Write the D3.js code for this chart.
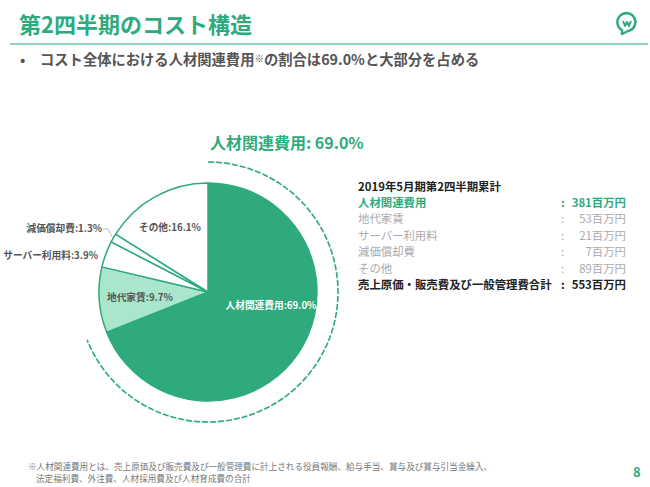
<!DOCTYPE html>
<html>
<head>
<meta charset="utf-8">
<script src="https://cdn.jsdelivr.net/npm/d3@7"></script>
<style>
  body { margin: 0; background: #fff; }
  text { font-family: "Noto Sans CJK JP", "Noto Sans", sans-serif; }
</style>
</head>
<body>
<div id="chart"></div>
<script>
// data
const categories = ["人材関連費用", "地代家賃", "サーバー利用料", "減価償却費", "その他"];
const shares = [69.0, 9.7, 3.9, 1.3, 16.1];
const amounts = [381, 53, 21, 7, 89];
const totalLabel = "売上原価・販売費及び一般管理費合計";
const totalAmount = 553;

const width = 650;
const height = 487;
const green = "#2eaa7d";

const svg = d3.select("#chart").append("svg")
  .attr("width", width)
  .attr("height", height);

// header
svg.append("text")
  .attr("x", 19).attr("y", 33)
  .attr("fill", green)
  .attr("font-size", 22).attr("font-weight", 700)
  .text("第2四半期のコスト構造");

svg.append("line")
  .attr("x1", 10).attr("x2", 648)
  .attr("y1", 44).attr("y2", 44)
  .attr("stroke", "#6cc3a0").attr("stroke-width", 1.5);

// logo
const logo = svg.append("g").attr("transform", "translate(627,22)");
logo.append("path")
  .attr("d", "M-5,8 A9,9 0 1 1 1,9 L-5,12 Z")
  .attr("fill", "none").attr("stroke", green).attr("stroke-width", 2.5)
  .attr("stroke-linejoin", "round");
logo.append("path")
  .attr("d", "M-4,-1 L-2,4 L0,0 L2,4 L4,-1")
  .attr("fill", "none").attr("stroke", green).attr("stroke-width", 2)
  .attr("stroke-linejoin", "round");

svg.append("text")
  .attr("x", 20).attr("y", 65)
  .attr("fill", "#555").attr("font-size", 14).attr("font-weight", 700)
  .text("•");
const sub = svg.append("text")
  .attr("x", 40).attr("y", 65)
  .attr("fill", "#555").attr("font-size", 14.3).attr("font-weight", 700);
sub.append("tspan").text("コスト全体における人材関連費用");
sub.append("tspan").attr("font-size", 9.5).attr("font-weight", 400).attr("dy", -3.5).text("※");
sub.append("tspan").attr("dy", 3.5).text("の割合は69.0%と大部分を占める");

// pie
const cx = 208, cy = 292, r = 109;
const pie = d3.pie().sort(null).value(d => d);
const arcs = pie(shares);
const arc = d3.arc().innerRadius(0).outerRadius(r);
const fills = [green, "#a9e6cc", "#fff", "#fff", "#fff"];

const g = svg.append("g").attr("transform", `translate(${cx},${cy})`);
g.selectAll("path.slice")
  .data(arcs)
  .enter()
  .append("path")
  .attr("class", "slice")
  .attr("d", arc)
  .attr("fill", (d, i) => fills[i])
  .attr("stroke", green)
  .attr("stroke-width", 1.5)
  .attr("stroke-linejoin", "round");

// dashed arc around main slice
g.append("path")
  .attr("d", d3.arc().innerRadius(130).outerRadius(130)
    .startAngle(arcs[0].startAngle).endAngle(arcs[0].endAngle)())
  .attr("fill", "none")
  .attr("stroke", green)
  .attr("stroke-width", 1.6)
  .attr("stroke-dasharray", "5,3");

// labels
const fs = 9.7;
const lbl = (i) => `${categories[i]}:${shares[i].toFixed(1)}%`;
g.append("text").attr("x", 63).attr("y", 17)
  .attr("text-anchor", "middle").attr("fill", "#fff")
  .attr("font-size", fs).attr("font-weight", 700).text(lbl(0));
g.append("text").attr("x", -101).attr("y", 9)
  .attr("fill", "#555").attr("font-size", fs).attr("font-weight", 700).text(lbl(1));
g.append("text").attr("x", -69).attr("y", -61)
  .attr("fill", "#555").attr("font-size", fs).attr("font-weight", 700).text(lbl(4));
g.append("text").attr("x", -110).attr("y", -33)
  .attr("text-anchor", "end")
  .attr("fill", "#555").attr("font-size", fs).attr("font-weight", 700).text(lbl(2));
g.append("text").attr("x", -106).attr("y", -60)
  .attr("text-anchor", "end")
  .attr("fill", "#555").attr("font-size", fs).attr("font-weight", 700).text(lbl(3));
// leader line for small slice
const mid3 = (arcs[3].startAngle + arcs[3].endAngle) / 2;
g.append("polyline")
  .attr("points", [[-105, -63], [-100, -63], [Math.sin(mid3) * (r + 1), -Math.cos(mid3) * (r + 1)]].map(p => p.join(",")).join(" "))
  .attr("fill", "none").attr("stroke", "#aaa").attr("stroke-width", 0.8);

svg.append("text")
  .attr("x", 210).attr("y", 149)
  .attr("fill", green).attr("font-size", 16).attr("font-weight", 700)
  .text(`${categories[0]}: ${shares[0].toFixed(1)}%`);

// table
const tx = 358, colonX = 561, valX = 626, rowY0 = 207, rowH = 16.4;
svg.append("text").attr("x", tx).attr("y", 191)
  .attr("fill", "#222").attr("font-size", 11.4).attr("font-weight", 700)
  .text("2019年5月期第2四半期累計");

const rows = categories.map((c, i) => ({ name: c, amount: amounts[i] }))
  .concat([{ name: totalLabel, amount: totalAmount }]);
const rowColor = (i) => i === 0 ? green : (i === rows.length - 1 ? "#222" : "#aaa");
const rowWeight = (i) => (i === 0 || i === rows.length - 1) ? 700 : 400;

const tr = svg.selectAll("g.row")
  .data(rows)
  .enter()
  .append("g")
  .attr("class", "row")
  .attr("transform", (d, i) => `translate(0,${rowY0 + i * rowH})`)
  .attr("fill", (d, i) => rowColor(i))
  .attr("font-weight", (d, i) => rowWeight(i))
  .attr("font-size", 11.4);
tr.append("text").attr("x", tx).text(d => d.name);
tr.append("text").attr("x", colonX).text(":");
tr.append("text").attr("x", valX).attr("text-anchor", "end").text(d => `${d.amount}百万円`);

// footnote
svg.append("text").attr("x", 28).attr("y", 470)
  .attr("fill", "#777").attr("font-size", 8.6)
  .text("※人材関連費用とは、売上原価及び販売費及び一般管理費に計上される役員報酬、給与手当、賞与及び賞与引当金繰入、");
svg.append("text").attr("x", 36).attr("y", 482)
  .attr("fill", "#777").attr("font-size", 8.6)
  .text("法定福利費、外注費、人材採用費及び人材育成費の合計");
svg.append("text").attr("x", 633).attr("y", 477)
  .attr("fill", green).attr("font-size", 13).attr("font-weight", 700)
  .text("8");
</script>
</body>
</html>
